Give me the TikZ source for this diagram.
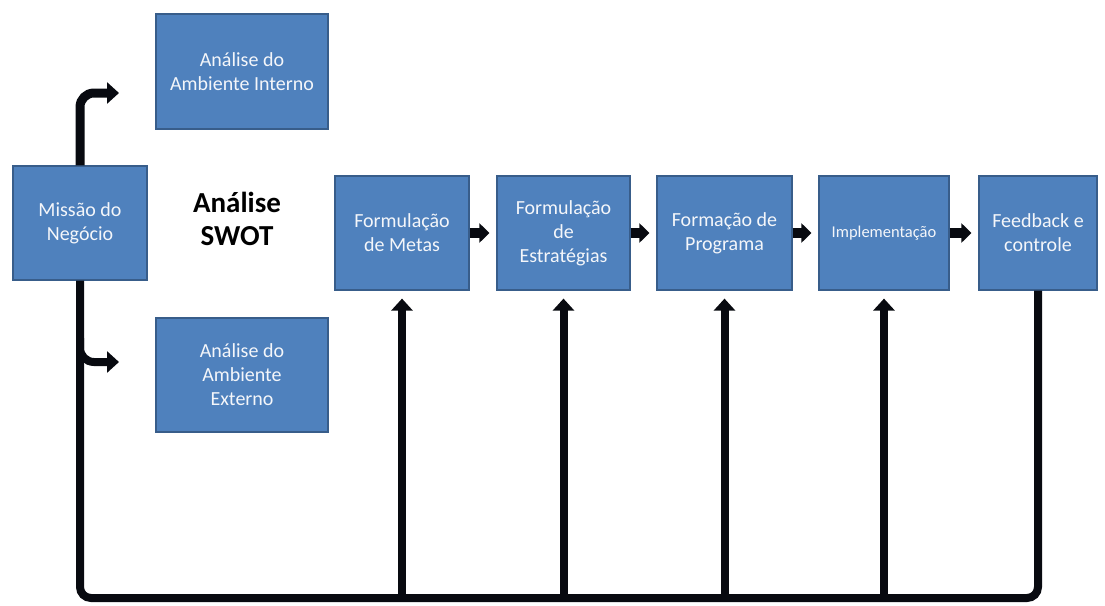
\documentclass[tikz,border=0pt]{standalone}
\usepackage{fontspec}
\setmainfont{Carlito}
\usetikzlibrary{arrows.meta}
\definecolor{boxfill}{HTML}{4F81BD}
\definecolor{boxedge}{HTML}{385D8A}
\definecolor{flowink}{HTML}{080A10}
\definecolor{boxtext}{HTML}{F4F6FA}
\begin{document}
\begin{tikzpicture}[x=1pt,y=-1pt,
  stage/.style={draw=boxedge, fill=boxfill, line width=1.2pt, text=boxtext,
    align=center, inner sep=0pt, minimum height=114pt,
    font=\fontsize{20}{24}\selectfont},
  flow/.style={draw=flowink, line width=8pt},
  bigtip/.style={-{Triangle[length=12pt,width=21pt]}},
  smalltip/.style={-{Triangle[length=10pt,width=19pt]}}]
\useasboundingbox (0,0) rectangle (1105,605);

% SWOT inputs
\node[stage, minimum width=172pt, minimum height=115pt] (interno) at (242,71.5) {Análise do\\Ambiente Interno};
\node[stage, minimum width=134pt] (missao) at (80,223) {Missão do\\Negócio};
\node[stage, minimum width=172pt] (externo) at (242,375) {Análise do\\Ambiente\\Externo};
\node[font=\bfseries\fontsize{29}{33}\selectfont, align=center] (swot) at (237,219) {Análise\\SWOT};

% planning chain
\node[stage, minimum width=134pt] (metas) at (402,233) {Formulação\\de Metas};
\node[stage, minimum width=133pt] (estrat) at (563.5,233) {Formulação\\de\\Estratégias};
\node[stage, minimum width=135pt] (programa) at (724.5,233) {Formação de\\Programa};
\node[stage, minimum width=130pt, font=\fontsize{16.5}{20}\selectfont] (impl) at (884,233) {Implementação};
\node[stage, minimum width=118pt] (feedback) at (1038,233) {Feedback e\\controle};

% free ends and the feedback floor
\coordinate (intip) at (119,93);
\coordinate (extip) at (119,362);
\coordinate (branch) at (80,338);
\coordinate (floor) at (0,598);

% mission to the environment analyses
\draw[flow, line width=9pt, bigtip, rounded corners=14pt] (missao.north) |- (intip);
\draw[flow, bigtip, rounded corners=14pt] (branch) |- (extip);

% feedback loop back to the mission
\draw[flow, rounded corners=11pt] (feedback.south) |- (missao.south |- floor) -- (missao.south);

% feedback into each stage
\foreach \s in {metas,estrat,programa,impl}
  \draw[flow, bigtip] (\s.south |- floor) -- ([yshift=-8pt]\s.south);

% chain arrows
\draw[flow, line width=10pt, smalltip] (metas.east) -- ([xshift=-7pt]estrat.west);
\draw[flow, line width=10pt, smalltip] (estrat.east) -- ([xshift=-7pt]programa.west);
\draw[flow, line width=10pt, smalltip] (programa.east) -- ([xshift=-7pt]impl.west);
\draw[flow, line width=10pt, smalltip] (impl.east) -- ([xshift=-7pt]feedback.west);
\end{tikzpicture}
\end{document}
